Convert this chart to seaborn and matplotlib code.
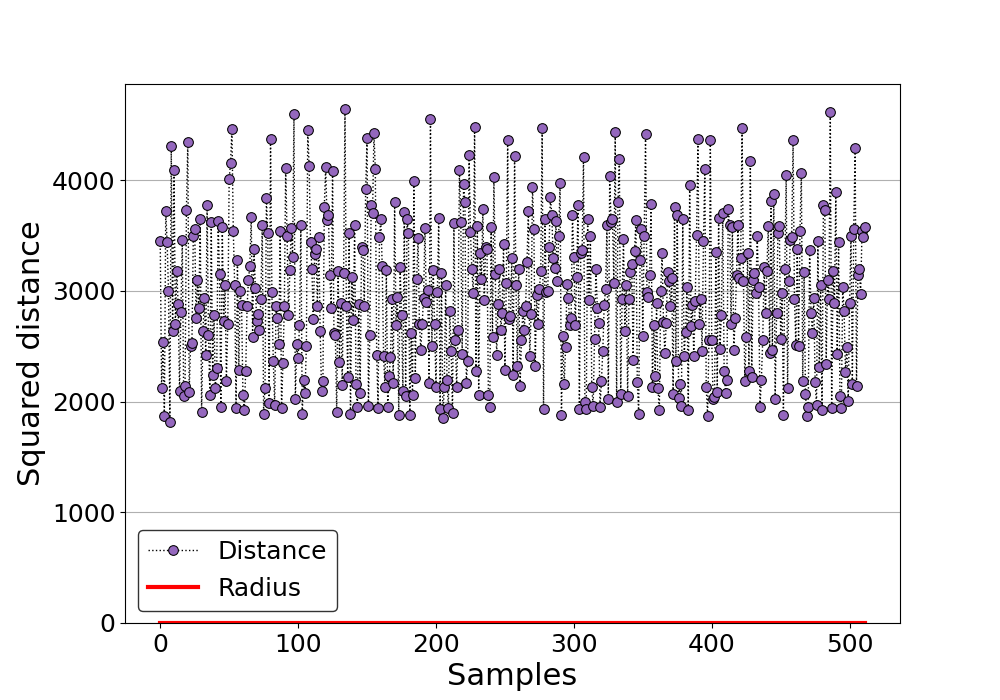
import matplotlib
matplotlib.use("Agg")
import matplotlib.pyplot as plt
import numpy as np
import pandas as pd
import seaborn as sns

# squared distances (estimated, 512 samples)
distance = [
    3450, 2120, 2540, 1870, 3720, 3440, 3000, 1820, 4310, 2640, 4090, 2700, 3180, 2880, 2100, 2810,
    3460, 2050, 2140, 3730, 4350, 2090, 2500, 2530, 3500, 3560, 2760, 3100, 2850, 3650, 1910, 2640,
    2940, 2420, 3780, 2600, 2060, 3620, 2240, 2780, 2120, 2300, 3630, 3150, 1950, 3580, 2730, 3050,
    2190, 2700, 4010, 4160, 4460, 3540, 3050, 1940, 3280, 2290, 3000, 2870, 2060, 1920, 2280, 2860,
    3100, 3230, 3670, 2580, 3380, 3030, 2730, 2790, 2650, 2930, 3600, 1890, 2120, 3840, 3520, 1990,
    4370, 2990, 2370, 1970, 2860, 2760, 2520, 3540, 1940, 2350, 2860, 4110, 3500, 2780, 3190, 3570,
    3310, 4600, 2020, 2520, 2390, 2690, 3600, 1890, 2200, 2080, 2500, 4450, 4130, 3440, 3200, 2750,
    3330, 3380, 2860, 3490, 2640, 2100, 2190, 3760, 4120, 3640, 3690, 3140, 2850, 4080, 2620, 2600,
    1910, 3180, 2360, 2890, 2150, 3160, 4640, 2860, 2220, 3520, 1890, 3130, 2740, 3600, 2160, 1950,
    2880, 2080, 3400, 3370, 2860, 3920, 4380, 1960, 2600, 3780, 3700, 4430, 4100, 2420, 1940, 3490,
    3650, 3230, 2410, 2130, 3190, 1950, 2230, 2400, 2930, 2170, 3800, 2690, 2950, 1880, 3220, 2780,
    2100, 3710, 2050, 3650, 3520, 1880, 2620, 2060, 3990, 2210, 3110, 3480, 2700, 2470, 2700, 2940,
    3570, 2900, 3010, 2170, 4550, 2500, 3190, 2700, 2130, 2990, 3660, 1930, 3160, 1850, 2130, 3050,
    2200, 1940, 2820, 2460, 1900, 3610, 2560, 2130, 2650, 4090, 3620, 2430, 3970, 3800, 2170, 2370,
    4230, 3530, 3200, 2980, 4480, 2280, 3590, 2060, 3340, 3110, 3740, 2920, 3400, 3380, 2060, 1950,
    3580, 2580, 4030, 3150, 2420, 2880, 3200, 2650, 2800, 3420, 2290, 3070, 4360, 2750, 2770, 3300,
    2240, 4220, 3050, 2320, 3200, 2140, 2560, 2820, 2650, 2860, 3260, 3720, 2410, 2790, 3940, 3560,
    2320, 2960, 2700, 3020, 3180, 4470, 1930, 3650, 2990, 3000, 3400, 3850, 3690, 3300, 3210, 3630,
    3090, 3500, 3980, 1880, 2590, 2160, 2490, 3060, 2940, 2690, 2760, 3690, 3310, 2690, 3130, 3780,
    1930, 3340, 3370, 4210, 2000, 1930, 3650, 2920, 3500, 2130, 1960, 2570, 3200, 2850, 2710, 1950,
    2190, 2460, 2870, 3020, 3600, 2020, 4040, 3620, 3650, 3070, 4440, 2000, 3800, 4190, 2070, 2930,
    3470, 2640, 3050, 2050, 2930, 3170, 3240, 2380, 3360, 3640, 2180, 1890, 3280, 3560, 2590, 3500,
    4420, 2990, 2950, 3140, 3790, 2130, 2690, 2230, 2890, 2120, 1920, 3000, 3340, 2720, 2440, 2710,
    3170, 3090, 2860, 3120, 2070, 3760, 2370, 3690, 2030, 2160, 1960, 3650, 2410, 2630, 3040, 1920,
    3960, 2680, 2870, 2410, 2910, 3510, 4370, 2700, 2930, 2460, 3450, 4100, 2130, 1870, 2560, 4360,
    2560, 2020, 2040, 3350, 2090, 3660, 2480, 2780, 3700, 2280, 2080, 2200, 3740, 3600, 2700, 3580,
    2470, 2760, 3140, 3600, 3120, 3300, 4470, 3090, 2190, 2580, 3340, 2280, 4170, 2220, 3100, 3160,
    2980, 3500, 3040, 1950, 2200, 2560, 3220, 2800, 3180, 3590, 2440, 3810, 2470, 3880, 2020, 2800,
    3520, 3590, 2570, 2980, 1880, 3200, 4050, 2120, 3090, 3460, 3490, 4360, 2930, 2510, 3380, 2500,
    3540, 4070, 2190, 3170, 2070, 1870, 1950, 3370, 2800, 2620, 2940, 2180, 1970, 3450, 2310, 3050,
    1920, 3780, 3730, 2340, 3100, 2930, 4620, 1940, 3180, 2890, 3890, 2430, 3440, 2050, 1940, 3040,
    2820, 2270, 2490, 2010, 2890, 3500, 2160, 3560, 4290, 2140, 3140, 3200, 2970, 3540, 3490, 3580,
]
radius = 0.0

samples = np.arange(len(distance))
df = pd.DataFrame({"sample": samples, "distance": distance})

plt.figure(figsize=(10, 7), dpi=100)
ax = plt.gca()
sns.lineplot(data=df, x="sample", y="distance", ax=ax, color="black", linestyle=":",
             linewidth=1, marker="o", markersize=7, markerfacecolor="#9467bd",
             markeredgecolor="black", label="Distance")
ax.plot([samples[0], samples[-1]], [radius, radius], color="red", linewidth=3, label="Radius")

ax.set_ylim(0, 4870)
ax.yaxis.grid(True, color="#b0b0b0")
ax.set_axisbelow(True)
ax.set_xlabel("Samples", fontsize=22)
ax.set_ylabel("Squared distance", fontsize=22)
ax.tick_params(labelsize=18)
ax.legend(fontsize=18, loc="lower left", edgecolor="black")

plt.savefig("out.png", dpi=100)
plt.close()
